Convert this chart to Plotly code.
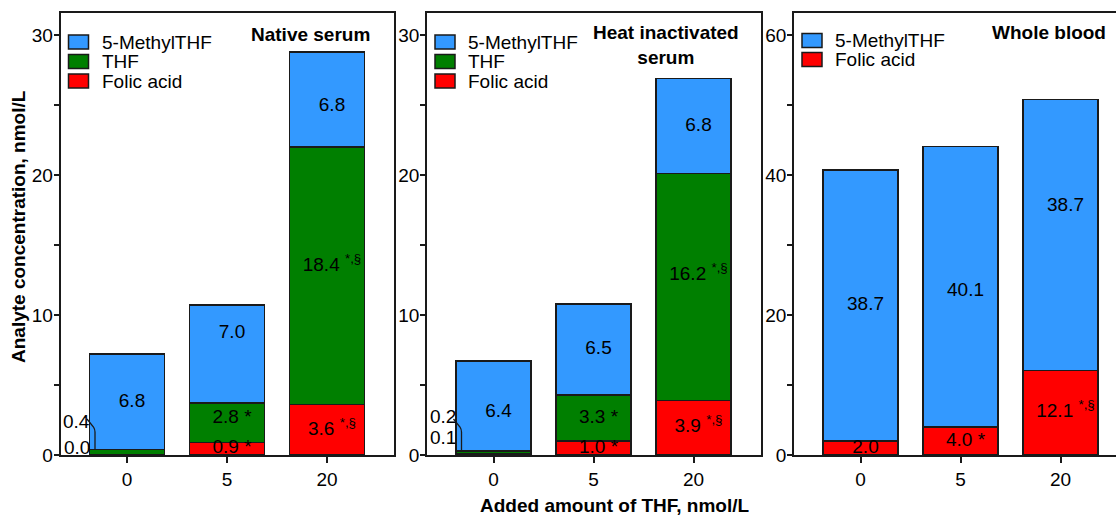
import plotly.graph_objects as go

# ---- data -------------------------------------------------------------
amounts = ["0", "5", "20"]          # added THF, nmol/L

native_folic = [0.0, 0.9, 3.6]
native_thf = [0.4, 2.8, 18.4]
native_mthf = [6.8, 7.0, 6.8]

heat_folic = [0.1, 1.0, 3.9]
heat_thf = [0.2, 3.3, 16.2]
heat_mthf = [6.4, 6.5, 6.8]

blood_folic = [2.0, 4.0, 12.1]
blood_mthf = [38.7, 40.1, 38.7]

# significance marks: "*" vs. 0 nmol/L, "*,§" also vs. 5 nmol/L
native_folic_sig = ["", "*", "*,§"]
native_thf_sig = ["", "*", "*,§"]
native_mthf_sig = ["", "", ""]
heat_folic_sig = ["", "*", "*,§"]
heat_thf_sig = ["", "*", "*,§"]
heat_mthf_sig = ["", "", ""]
blood_folic_sig = ["", "*", "*,§"]
blood_mthf_sig = ["", "", ""]

# ---- style ------------------------------------------------------------
W, H = 1116, 515
BLUE, GREEN, RED = "#3399FF", "#007F00", "#FF0000"
INK = "#1a1a1a"
FONT = "Arial, 'Liberation Sans', sans-serif"
FS = 19

PLOT_TOP, PLOT_BOTTOM = 13, 455        # plot area, px
TOP_TICK_PX = 35                       # px position of the highest labelled tick
PITCH = 100.0                          # px between bar centres
LEFT_PAD = 0.665                       # category units left of the first bar
LABEL_DX = 0.05                        # in-bar labels sit slightly right of centre

panels = [
    dict(title="<b>Native serum</b>", px=(60.5, 394), ymax=30, major=10, minor=5,
         series=[("Folic acid", native_folic, RED, native_folic_sig),
                 ("THF", native_thf, GREEN, native_thf_sig),
                 ("5-MethylTHF", native_mthf, BLUE, native_mthf_sig)],
         title_pos=(372, 34, "right"),
         callouts=[(1, 421.7, 419), (0, 447, None)],
         nudge={(2, 1): 21, (1, 1): 5, (1, 2): 10, (2, 2): -7}),
    dict(title="<b>Heat inactivated<br>serum</b>", px=(427, 761), ymax=30, major=10, minor=5,
         series=[("Folic acid", heat_folic, RED, heat_folic_sig),
                 ("THF", heat_thf, GREEN, heat_thf_sig),
                 ("5-MethylTHF", heat_mthf, BLUE, heat_mthf_sig)],
         title_pos=(666, 45, "center"),
         callouts=[(1, 416, 419), (0, 437, None)],
         nudge={(2, 0): -6, (1, 2): 12}),
    dict(title="<b>Whole blood</b>", px=(794, 1116), ymax=60, major=20, minor=10,
         series=[("Folic acid", blood_folic, RED, blood_folic_sig),
                 ("5-MethylTHF", blood_mthf, BLUE, blood_mthf_sig)],
         title_pos=(1108, 33, "right"),
         callouts=[],
         nudge={(1, 1): -5, (1, 2): 29}),
]


def fmt(v, sig):
    s = f"{v:.1f}"
    if sig == "*":
        s += " *"
    elif sig:
        s += " <sup>" + sig + "</sup>"
    return s


fig = go.Figure()
shapes, annotations = [], []
layout_axes = {}

for p, pn in enumerate(panels):
    sfx = "" if p == 0 else str(p + 1)
    xa, ya = "x" + sfx, "y" + sfx
    x0, x1 = pn["px"]
    ppu = (PLOT_BOTTOM - TOP_TICK_PX) / pn["ymax"]          # px per unit
    ytop = (PLOT_BOTTOM - PLOT_TOP) / ppu
    idx = list(range(len(amounts)))

    base = [0.0] * len(amounts)
    lx, ly, lt = [], [], []
    for s_i, (name, vals, color, sigs) in enumerate(pn["series"]):
        fig.add_bar(x=idx, y=vals, name=name, width=0.75, showlegend=False,
                    marker=dict(color=color, line=dict(color=INK, width=1.5)),
                    xaxis=xa, yaxis=ya, hoverinfo="skip")
        for i, v in enumerate(vals):
            if v >= 0.5:
                lx.append(i + LABEL_DX)
                ly.append(base[i] + v / 2 + pn["nudge"].get((s_i, i), 0) / ppu)
                lt.append(fmt(v, sigs[i]))
        base = [b + v for b, v in zip(base, vals)]

    fig.add_scatter(x=lx, y=ly, text=lt, mode="text", showlegend=False,
                    textfont=dict(family=FONT, size=FS, color="black"),
                    cliponaxis=True, xaxis=xa, yaxis=ya, hoverinfo="skip")

    # small first-bar components written beside the bar with a leader line
    for s_i, label_py, leader_py in pn["callouts"]:
        vals = pn["series"][s_i][1]
        annotations.append(dict(
            x=-0.395, y=(PLOT_BOTTOM - label_py) / ppu, xref=xa, yref=ya,
            text=f"{vals[0]:.1f}", showarrow=False, xanchor="right", yanchor="middle",
            font=dict(family=FONT, size=FS, color="black"), xshift=4))
        if leader_py is not None:
            stack_top = sum(pn["series"][k][1][0] for k in range(s_i + 1))
            ya1 = (PLOT_BOTTOM - leader_py) / ppu
            ya2 = (PLOT_BOTTOM - 427) / ppu
            ya3 = (PLOT_BOTTOM - 432) / ppu
            shapes.append(dict(
                type="path", xref=xa, yref=ya, line=dict(color=INK, width=1.3),
                path=f"M -0.40,{ya1} L -0.335,{ya2} Q -0.32,{(ya2 + ya3) / 2} -0.32,{ya3} "
                     f"L -0.32,{stack_top}"))

    # legend drawn inside each panel, top item first
    for k, (name, vals, color, sigs) in enumerate(reversed(pn["series"])):
        sx0 = x0 + 8
        cy = 42 + 19.5 * k if p < 2 else 40.5 + 19 * k
        shapes.append(dict(type="rect", xref="paper", yref="paper",
                           x0=sx0 / W, x1=(sx0 + 20) / W,
                           y0=1 - (cy + 7) / H, y1=1 - (cy - 7) / H,
                           fillcolor=color, line=dict(color=INK, width=1.5)))
        annotations.append(dict(x=(sx0 + 31) / W, y=1 - cy / H, xref="paper", yref="paper",
                                text=name, showarrow=False, xanchor="left", yanchor="middle",
                                font=dict(family=FONT, size=FS, color="black")))

    tx, ty, anchor = pn["title_pos"]
    annotations.append(dict(x=tx / W, y=1 - ty / H, xref="paper", yref="paper",
                            text=pn["title"], showarrow=False, xanchor=anchor, yanchor="middle",
                            align="center", font=dict(family=FONT, size=FS, color="black")))

    tickvals = list(range(0, pn["ymax"] + 1, pn["minor"]))
    ticktext = [str(v) if v % pn["major"] == 0 else "" for v in tickvals]
    axis_common = dict(showline=True, linecolor=INK, linewidth=1.5, showgrid=False,
                       zeroline=False, ticks="outside", tickcolor=INK, tickwidth=1.5,
                       automargin=False,
                       tickfont=dict(family=FONT, size=FS, color="black"))
    layout_axes["xaxis" + sfx] = dict(
        axis_common, domain=[x0 / W, min(x1 / W, 1.0)],
        range=[-LEFT_PAD, -LEFT_PAD + (x1 - x0) / PITCH], mirror=True,
        tickvals=idx, ticktext=amounts, ticklen=6, anchor=ya)
    layout_axes["yaxis" + sfx] = dict(
        axis_common, domain=[0, 1],
        range=[0, ytop], mirror=(p < 2), tickvals=tickvals, ticktext=ticktext,
        ticklen=5, ticklabelstandoff=-3, anchor=xa)

annotations.append(dict(x=19 / W, y=1 - 227 / H, xref="paper", yref="paper",
                        text="<b>Analyte concentration, nmol/L</b>", textangle=-90,
                        showarrow=False, xanchor="center", yanchor="middle",
                        font=dict(family=FONT, size=FS, color="black")))
annotations.append(dict(x=615 / W, y=1 - 505 / H, xref="paper", yref="paper",
                        text="<b>Added amount of THF, nmol/L</b>",
                        showarrow=False, xanchor="center", yanchor="middle",
                        font=dict(family=FONT, size=FS, color="black")))

# annotations and legend shapes are placed in whole-figure coordinates
for a in annotations:
    if a["yref"] == "paper":
        py = (1 - a["y"]) * H
        a["y"] = (PLOT_BOTTOM - py) / (PLOT_BOTTOM - PLOT_TOP)
for s in shapes:
    if s["yref"] == "paper":
        for key in ("y0", "y1"):
            py = (1 - s[key]) * H
            s[key] = (PLOT_BOTTOM - py) / (PLOT_BOTTOM - PLOT_TOP)

fig.update_layout(
    width=W, height=H,
    margin=dict(l=0, r=0, t=PLOT_TOP, b=H - PLOT_BOTTOM, pad=0, autoexpand=False),
    paper_bgcolor="white", plot_bgcolor="white",
    barmode="stack", showlegend=False,
    font=dict(family=FONT, size=FS, color="black"),
    shapes=shapes, annotations=annotations, **layout_axes)

fig.write_html("out.html")
